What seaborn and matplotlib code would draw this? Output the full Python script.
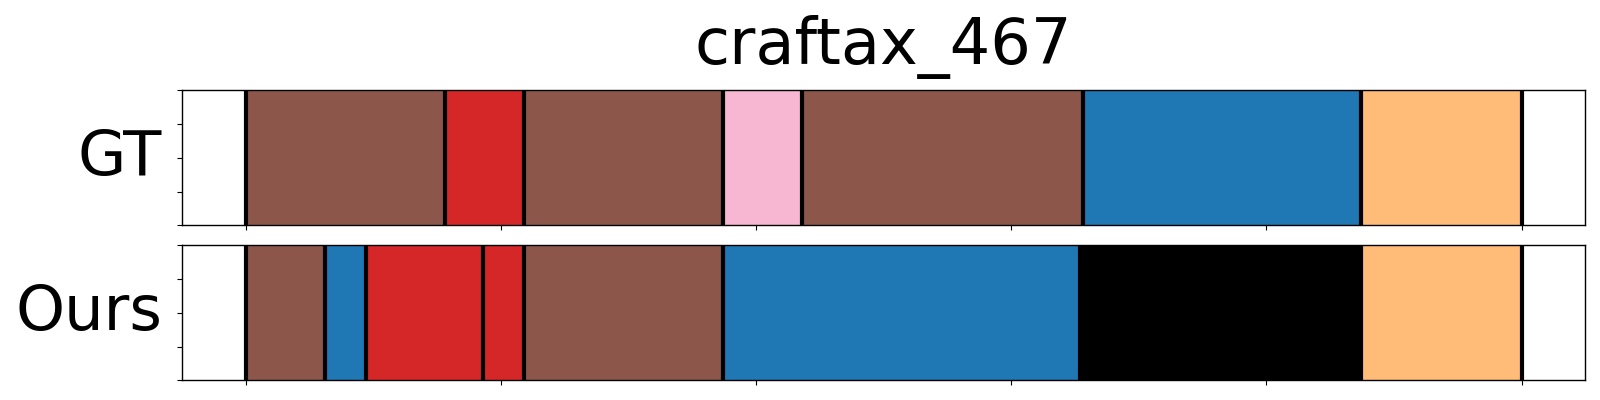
import matplotlib
matplotlib.use("Agg")
import matplotlib.pyplot as plt
import seaborn as sns

# segment boundaries (frames) and action classes
gt_bounds = [0, 78, 109, 187, 218, 328, 437, 500]
gt_labels = ["brown", "red", "brown", "pink", "brown", "blue", "orange"]

ours_bounds = [0, 31, 47, 93, 109, 187, 327, 437, 500]
ours_labels = ["brown", "blue", "red", "red", "brown", "blue", "black", "orange"]

title = "craftax_467"

sns.set_style("ticks")
plt.rcParams["text.color"] = "black"
plt.rcParams["axes.labelcolor"] = "black"
tab10 = sns.color_palette("tab10")
tab20 = sns.color_palette("tab20")
colors = {
    "blue": tab10[0],
    "red": tab10[3],
    "brown": tab10[5],
    "pink": tab20[13],
    "orange": tab20[3],
    "black": (0, 0, 0),
}


def draw_segments(ax, bounds, labels, name):
    """ Draws one row of colored segments with black boundaries. """
    for start, end, lab in zip(bounds[:-1], bounds[1:], labels):
        ax.axvspan(start, end, color=colors[lab], lw=0)
    for b in bounds:
        ax.axvline(b, color="black", lw=3)
    ax.set_ylim(0, 1)
    ax.set_yticks([0, 0.25, 0.5, 0.75, 1.0])
    ax.set_yticklabels([])
    ax.set_xticklabels([])
    ax.set_ylabel(name, fontsize=45, rotation=0, ha="right", va="center", labelpad=7)
    for s in ax.spines.values():
        s.set_color("black")
        s.set_linewidth(1.0)
    ax.tick_params(colors="black")


fig = plt.figure(figsize=(16, 4), dpi=100)
ax1 = fig.add_axes([0.1136, 0.4368, 0.8773, 0.3374])
ax2 = fig.add_axes([0.1136, 0.0493, 0.8773, 0.3375], sharex=ax1)

draw_segments(ax1, gt_bounds, gt_labels, "GT")
draw_segments(ax2, ours_bounds, ours_labels, "Ours")
ax1.set_xlim(-25, 525)
ax1.set_xticks([0, 100, 200, 300, 400, 500])
ax1.set_title(title, fontsize=46, pad=19)
plt.setp(ax1.get_xticklabels(), visible=False)
plt.setp(ax2.get_xticklabels(), visible=False)

plt.savefig("out.png", dpi=100)
